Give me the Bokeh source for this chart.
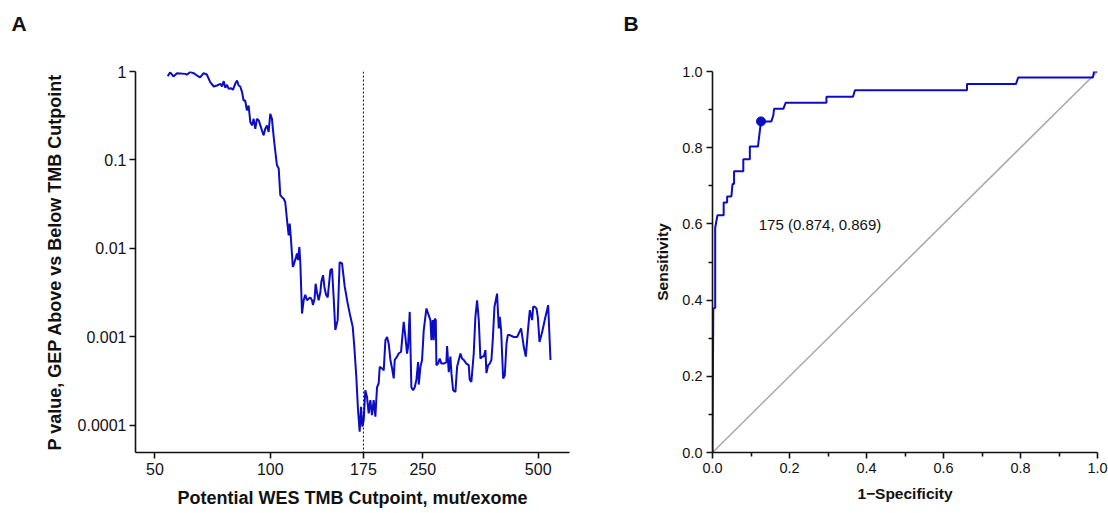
from bokeh.plotting import figure
from bokeh.models import (FixedTicker, Label, Span, Range1d, CustomJSTickFormatter,
                          PrintfTickFormatter, LinearAxis)
from bokeh.layouts import row
from bokeh.embed import file_html
from bokeh.resources import INLINE

FONT = "Liberation Sans"
BLUE = "#0c0cc4"
INK = "#111111"

# ---------------- Panel A data ----------------
tmb_cutpoint = [
    54.0, 54.8, 55.9, 57.1, 60.0, 60.6, 61.8, 63.1, 64.4, 65.6, 67.0, 68.3, 69.7, 71.2, 72.6,
    74.1, 74.8, 75.6, 76.3, 77.1, 77.9, 79.1, 79.9, 81.0, 81.9, 82.7, 83.5, 84.4, 85.2, 86.0,
    86.9, 87.8, 88.7, 89.6, 90.5, 91.4, 92.3, 93.3, 94.2, 95.1, 96.1, 97.0, 98.0, 99.0, 100.0,
    101.0, 102.1, 103.0, 104.1, 105.2, 106.2, 107.3, 108.4, 109.4, 110.6, 111.7, 112.4, 113.2,
    114.5, 115.1, 116.7, 117.4, 118.1, 119.1, 119.8, 121.0, 122.2, 123.4, 124.7, 125.9, 127.2,
    128.5, 129.2, 130.5, 131.3, 132.4, 133.7, 135.1, 135.9, 137.3, 138.4, 139.8, 141.2, 143.5,
    144.9, 146.4, 147.8, 149.9, 151.7, 153.9, 156.4, 159.2, 161.8, 164.1, 165.7, 167.7, 169.4,
    171.1, 172.5, 173.9, 175.3, 177.0, 178.8, 180.6, 182.4, 184.2, 186.1, 188.0, 189.9, 191.8,
    193.0, 195.7, 197.7, 199.7, 201.7, 203.7, 205.8, 207.9, 209.9, 211.2, 214.2, 216.3, 219.4,
    220.7, 222.9, 225.2, 227.4, 228.8, 231.1, 233.4, 235.8, 238.2, 240.6, 243.0, 244.0, 246.5,
    248.9, 251.4, 255.5, 258.1, 261.7, 263.3, 265.4, 267.0, 268.6, 270.3, 271.3, 274.1, 276.8,
    279.6, 283.5, 288.1, 289.3, 292.2, 295.1, 296.9, 299.9, 304.1, 307.2, 310.3, 313.4, 316.5,
    319.7, 324.8, 329.4, 331.4, 334.7, 339.5, 342.9, 346.4, 349.9, 353.4, 357.0, 360.6, 364.2,
    366.4, 370.1, 373.8, 377.5, 380.6, 384.5, 390.6, 394.6, 397.0, 400.2, 405.1, 409.1, 413.3,
    416.6, 421.6, 431.8, 440.6, 451.3, 458.6, 464.2, 469.8, 475.5, 482.2, 485.1, 490.0, 494.9,
    498.9, 504.0, 512.1, 522.4, 530.9, 538.4,
]
p_value = [
    0.885, 0.98, 0.88, 0.957, 0.94, 0.92, 0.99, 0.957, 0.90, 0.86, 0.957, 0.925, 0.757, 0.677, 0.695,
    0.726, 0.677, 0.778, 0.655, 0.708, 0.638, 0.648, 0.62, 0.726, 0.79, 0.695, 0.677, 0.585, 0.47, 0.47,
    0.363, 0.413, 0.268, 0.246, 0.292, 0.225, 0.292, 0.28, 0.246, 0.216, 0.19, 0.225, 0.246, 0.207, 0.333,
    0.292, 0.18, 0.128, 0.087, 0.080, 0.040, 0.038, 0.0365, 0.0335, 0.0208, 0.0141, 0.0191, 0.0129,
    0.0062, 0.0065, 0.0080, 0.0088, 0.0074, 0.0104, 0.0068, 0.00184, 0.0026, 0.0030, 0.0026, 0.0027, 0.0028,
    0.0026, 0.0023, 0.0027, 0.0040, 0.0032, 0.0026, 0.0032, 0.0042, 0.0050, 0.0037, 0.0030, 0.0028, 0.0057,
    0.0059, 0.0027, 0.0012, 0.00155, 0.0070, 0.0068, 0.0037, 0.0024, 0.0017, 0.0013, 0.00077, 0.00035, 0.000149,
    0.000085, 0.000163, 0.000097, 0.000115, 0.00025, 0.00021, 0.000137, 0.000194, 0.000131, 0.000194, 0.000126, 0.00027, 0.00030,
    0.00046, 0.00044, 0.00042, 0.00092, 0.00100, 0.00084, 0.00055, 0.00044, 0.00034, 0.00055, 0.00060, 0.00065, 0.00068,
    0.00092, 0.00148, 0.00100, 0.00065, 0.00077, 0.00192, 0.00027, 0.00025, 0.00027, 0.00033, 0.00052, 0.00029, 0.00046,
    0.00055, 0.00119, 0.00210, 0.00184, 0.00155, 0.00092, 0.00155, 0.00092, 0.00161, 0.00155, 0.00048, 0.00050, 0.00057,
    0.00050, 0.00050, 0.00052, 0.00079, 0.00040, 0.00060, 0.00039, 0.00025, 0.00024, 0.00046, 0.00055, 0.00065, 0.00057,
    0.00055, 0.00050, 0.00048, 0.00033, 0.00031, 0.00065, 0.00169, 0.00260, 0.00155, 0.00057, 0.00060, 0.00060, 0.00071,
    0.00039, 0.00048, 0.00050, 0.00055, 0.00092, 0.00219, 0.00309, 0.00125, 0.00169, 0.00119, 0.00034, 0.00037, 0.00084,
    0.00105, 0.00105, 0.00100, 0.00100, 0.00125, 0.00077, 0.00060, 0.00114, 0.00201, 0.00155, 0.00219, 0.00219, 0.00210,
    0.00169, 0.00088, 0.00114, 0.00169, 0.00229, 0.00055,
]
x_ticks_a = [50, 100, 175, 250, 500]
y_ticks_a = [0.0001, 0.001, 0.01, 0.1, 1]
optimal_cutpoint = 175

# ---------------- Panel B data ----------------
fpr = [0.0, 0.002, 0.002, 0.007, 0.007, 0.010, 0.013, 0.029, 0.029, 0.038, 0.038, 0.049, 0.052,
       0.056, 0.056, 0.080, 0.080, 0.097, 0.097, 0.118, 0.126, 0.153, 0.158, 0.160, 0.184, 0.190,
       0.296, 0.296, 0.365, 0.370, 0.661, 0.661, 0.788, 0.794, 0.988, 0.991, 1.0]
tpr = [0.0, 0.372, 0.377, 0.38, 0.59, 0.607, 0.623, 0.623, 0.656, 0.656, 0.672, 0.672, 0.705,
       0.705, 0.738, 0.738, 0.770, 0.770, 0.803, 0.803, 0.869, 0.869, 0.885, 0.902, 0.902, 0.918,
       0.918, 0.934, 0.934, 0.951, 0.951, 0.967, 0.967, 0.984, 0.984, 1.0, 1.0]
opt_fpr = [0.126]
opt_tpr = [0.869]
opt_text = "175 (0.874, 0.869)"
ticks_b = [0.0, 0.2, 0.4, 0.6, 0.8, 1.0]
minor_b = [0.1, 0.3, 0.5, 0.7, 0.9]


def style_axes(p, tick_size, title_size):
    for ax in (p.xaxis[0], p.yaxis[0]):
        ax.axis_line_color = INK
        ax.axis_line_width = 1.6
        ax.major_tick_line_color = INK
        ax.major_tick_line_width = 1.6
        ax.minor_tick_line_color = INK
        ax.minor_tick_line_width = 1.6
        ax.major_tick_in = 0
        ax.major_tick_out = 6
        ax.minor_tick_in = 0
        ax.minor_tick_out = 0
        ax.major_label_text_font = FONT
        ax.major_label_text_font_size = tick_size
        ax.major_label_text_color = INK
        ax.axis_label_text_font = FONT
        ax.axis_label_text_font_size = title_size
        ax.axis_label_text_font_style = "bold"
        ax.axis_label_text_color = INK
    p.xgrid.visible = False
    p.ygrid.visible = False
    p.outline_line_color = None
    p.background_fill_color = "white"
    p.border_fill_color = "white"


def panel_letter(p, letter, offset, spacer):
    # invisible spacer axis between the frame and the title pushes the letter up
    gap = LinearAxis(ticker=FixedTicker(ticks=[]), axis_line_color=None,
                     major_tick_line_color=None, minor_tick_line_color=None,
                     major_tick_out=0, major_tick_in=0, minor_tick_out=0, minor_tick_in=0,
                     axis_label=" ", axis_label_text_font_size="10px",
                     axis_label_text_color=None, axis_label_standoff=spacer)
    p.add_layout(gap, "above")
    p.title.text = letter
    p.title.align = "left"
    p.title.vertical_align = "bottom"
    p.title.offset = offset
    p.title.text_font = FONT
    p.title.text_font_size = "21px"
    p.title.text_font_style = "bold"
    p.title.text_color = INK
    p.title.standoff = 2


# ---------------- Panel A ----------------
pa = figure(width=600, height=512, x_axis_type="log", y_axis_type="log",
            x_range=Range1d(44.5, 603.5), y_range=Range1d(4.95e-5, 1.0),
            output_backend="svg", toolbar_location=None,
            min_border_left=135, min_border_right=31, min_border_top=71, min_border_bottom=60)
style_axes(pa, "16px", "18px")
pa.xaxis.ticker = FixedTicker(ticks=x_ticks_a, minor_ticks=[])
pa.yaxis.ticker = FixedTicker(ticks=y_ticks_a, minor_ticks=[])
pa.xaxis.formatter = CustomJSTickFormatter(code="return tick.toFixed(0);")
pa.yaxis.formatter = CustomJSTickFormatter(
    code="return tick >= 1 ? tick.toFixed(0) : tick.toFixed(Math.round(-Math.log10(tick)));")
pa.xaxis.axis_label = "Potential WES TMB Cutpoint, mut/exome"
pa.yaxis.axis_label = "P value, GEP Above vs Below TMB Cutpoint"
pa.xaxis.major_label_standoff = 4
pa.yaxis.major_label_standoff = 3
pa.xaxis.axis_label_standoff = 10
pa.yaxis.axis_label_standoff = 10
panel_letter(pa, "A", -124, 22)

pa.add_layout(Span(location=optimal_cutpoint, dimension="height", line_color=INK,
                   line_width=1, line_dash="2 2"))
pa.line(tmb_cutpoint, p_value, line_color=BLUE, line_width=2)

# ---------------- Panel B ----------------
pb = figure(width=508, height=512, x_range=Range1d(0, 1), y_range=Range1d(0, 1),
            output_backend="svg", toolbar_location=None,
            min_border_left=112, min_border_right=11, min_border_top=68, min_border_bottom=60)
style_axes(pb, "14.5px", "15.5px")
for ax in (pb.xaxis[0], pb.yaxis[0]):
    ax.ticker = FixedTicker(ticks=ticks_b, minor_ticks=minor_b)
    ax.formatter = PrintfTickFormatter(format="%.1f")
    ax.minor_tick_out = 4
pb.xaxis.axis_label = "1\u2212Specificity"
pb.yaxis.axis_label = "Sensitivity"
pb.xaxis.major_label_standoff = 4
pb.yaxis.major_label_standoff = 4
pb.xaxis.axis_label_standoff = 9
pb.yaxis.axis_label_standoff = 8
panel_letter(pb, "B", -89, 22)

pb.line([0, 1], [0, 1], line_color="#a8a8a8", line_width=1.5)
pb.line(fpr, tpr, line_color=BLUE, line_width=2)
pb.scatter(opt_fpr, opt_tpr, size=9, color=BLUE)
pb.add_layout(Label(x=0.12, y=0.598, text=opt_text, text_font=FONT, text_font_size="15px",
                    text_baseline="middle", text_align="left", text_color=INK))

layout = row(pa, pb)
open("out.html", "w").write(file_html(layout, INLINE))
